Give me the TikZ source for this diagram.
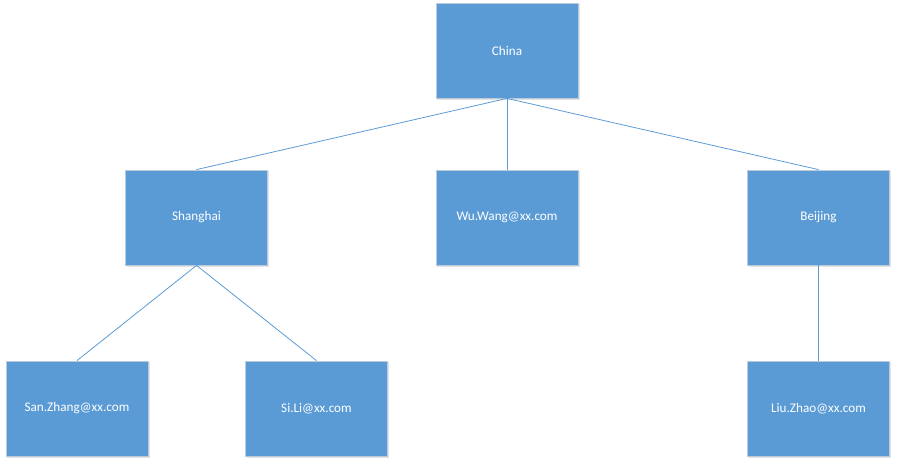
\documentclass[tikz,border=0pt]{standalone}
\usepackage{fontspec}
\setmainfont{Carlito}
\definecolor{boxfill}{HTML}{5B9BD5}
\definecolor{boxline}{HTML}{BCCBDB}
\definecolor{linkcol}{HTML}{5B9BD5}
\definecolor{shadowcol}{HTML}{E3E3E3}
\begin{document}
\begin{tikzpicture}[x=1pt,y=-1pt,
  orgbox/.style={rectangle, fill=boxfill, draw=boxline, line width=0.8pt,
    minimum width=142pt, minimum height=95pt, inner sep=0pt,
    text=white, font=\fontsize{13.2}{15}\selectfont},
  link/.style={draw=linkcol, line width=0.8pt}]
\useasboundingbox (0,0) rectangle (897,465);
% shadows
\foreach \cx/\cy in {507/50.5,196.5/217.5,507/217.5,818.5/217.5,77/408.5,316.5/408.5,818.5/408.5}{
  \fill[shadowcol] (\cx-70,\cy-46.5) rectangle (\cx+72.5,\cy+49.5);
}
\node[orgbox] (china) at (507,50.5) {China};
\node[orgbox] (sh) at (196.5,217.5) {Shanghai};
\node[orgbox] (wu) at (507,217.5) {Wu.Wang@xx.com};
\node[orgbox] (bj) at (818.5,217.5) {Beijing};
\node[orgbox] (san) at (77,408.5) {San.Zhang@xx.com};
\node[orgbox] (si) at (316.5,408.5) {Si.Li@xx.com};
\node[orgbox] (liu) at (818.5,408.5) {Liu.Zhao@xx.com};
\draw[link] (china.south) -- (sh.north);
\draw[link] (china.south) -- (wu.north);
\draw[link] (china.south) -- (bj.north);
\draw[link] (sh.south) -- (san.north);
\draw[link] (sh.south) -- (si.north);
\draw[link] (bj.south) -- (liu.north);
\end{tikzpicture}
\end{document}
